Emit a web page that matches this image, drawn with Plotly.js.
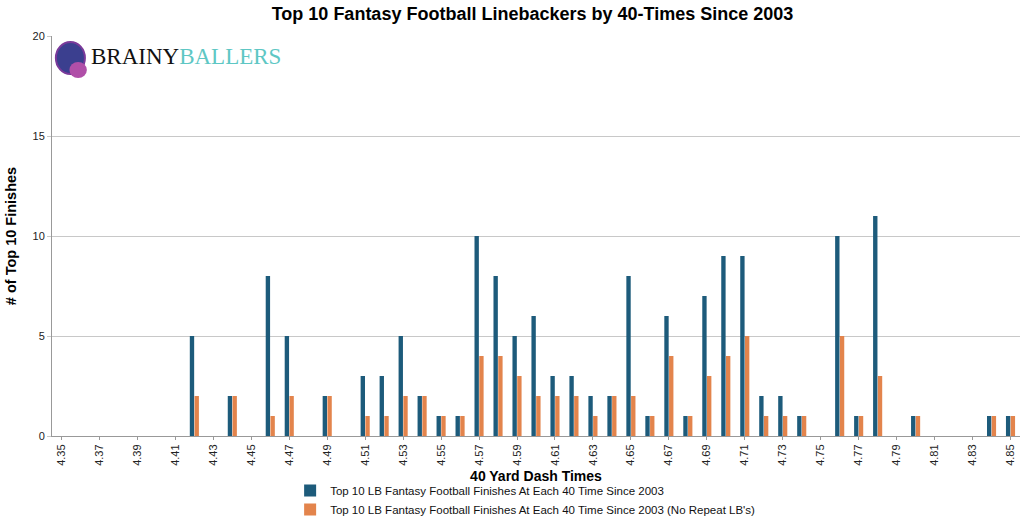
<!DOCTYPE html>
<html>
<head>
<meta charset="utf-8">
<script src="https://cdn.plot.ly/plotly-3.0.1.min.js"></script>
<style>html,body{margin:0;padding:0;background:#fff;}#chart{width:1024px;height:517px;}</style>
</head>
<body>
<div id="chart"></div>
<script>
const categories = ["4.35","4.36","4.37","4.38","4.39","4.40","4.41","4.42","4.43","4.44","4.45","4.46","4.47","4.48","4.49","4.50","4.51","4.52","4.53","4.54","4.55","4.56","4.57","4.58","4.59","4.60","4.61","4.62","4.63","4.64","4.65","4.66","4.67","4.68","4.69","4.70","4.71","4.72","4.73","4.74","4.75","4.76","4.77","4.78","4.79","4.80","4.81","4.82","4.83","4.84","4.85"];
const allFinishes = [0,0,0,0,0,0,0,5,0,2,0,8,5,0,2,0,3,3,5,2,1,1,10,8,5,6,3,3,2,2,8,1,6,1,7,9,9,2,2,1,0,10,1,11,0,1,0,0,0,1,1];
const noRepeat   = [0,0,0,0,0,0,0,2,0,2,0,1,2,0,2,0,1,1,2,2,1,1,4,4,3,2,2,2,1,2,2,1,4,1,3,4,5,1,1,1,0,5,1,3,0,1,0,0,0,1,1];
const tickLabels = categories.filter((c, i) => i % 2 === 0);
const seriesNames = ["Top 10 LB Fantasy Football Finishes At Each 40 Time Since 2003",
                     "Top 10 LB Fantasy Football Finishes At Each 40 Time Since 2003 (No Repeat LB's)"];

const traces = [
  {type:'bar', x:categories, y:allFinishes.map(v=>v===0?null:v), name:seriesNames[0], marker:{color:'#1d5b7b'}},
  {type:'bar', x:categories, y:noRepeat.map(v=>v===0?null:v), name:seriesNames[1], marker:{color:'#e3844c'}}
];

const layout = {
  width:1024, height:517,
  margin:{l:52, r:4, t:36, b:81, autoexpand:false},
  paper_bgcolor:'#fff', plot_bgcolor:'#fff',
  font:{family:'Liberation Sans, Arial, sans-serif', color:'#000', size:11},
  title:{text:'<b>Top 10 Fantasy Football Linebackers by 40-Times Since 2003</b>', x:0.52, xanchor:'center', y:0.973, yanchor:'middle', font:{size:18, color:'#000'}},
  barmode:'group', bargap:0.5, bargroupgap:0.08,
  xaxis:{type:'category', categoryorder:'array', categoryarray:categories,
         tickmode:'array', tickvals:tickLabels, ticktext:tickLabels, tickangle:-90,
         tickfont:{size:11, color:'#222'}, ticks:'outside', ticklen:3, tickcolor:'#999',
         showline:true, linecolor:'#999', linewidth:1, showgrid:false, fixedrange:true, automargin:false,
         title:{text:'<b>40 Yard Dash Times</b>', font:{size:14, color:'#000'}, standoff:6}},
  yaxis:{range:[0,20], tickvals:[0,5,10,15,20], showgrid:true, gridcolor:'#c8c8c8', gridwidth:1,
         showline:true, linecolor:'#999', linewidth:1, zeroline:false, ticks:'outside', ticklen:4, tickcolor:'#c8c8c8', automargin:false,
         tickfont:{size:11, color:'#222'},
         title:{text:'<b># of Top 10 Finishes</b>', font:{size:14.5, color:'#000'}, standoff:12}},
  showlegend:true,
  legend:{orientation:'v', x:0.246, xanchor:'left', y:-0.1, yanchor:'top', font:{size:11.5, color:'#111'},
          traceorder:'normal', itemwidth:30, tracegroupgap:0, bgcolor:'rgba(0,0,0,0)'},
  annotations:[
    {xref:'paper', yref:'paper', x:0.038, y:0.985, xanchor:'left', yanchor:'top', showarrow:false,
     text:'<span style="color:#111">BRAINY</span><span style="color:#5ec7c4">BALLERS</span>',
     font:{family:'Liberation Serif, DejaVu Serif, serif', size:23}}
  ],
  shapes:[
    {type:'circle', xref:'paper', yref:'paper', x0:0.004, x1:0.034, y0:0.905, y1:0.985, fillcolor:'#3b3f8f', line:{color:'#7a3a9a', width:2}},
    {type:'circle', xref:'paper', yref:'paper', x0:0.018, x1:0.036, y0:0.895, y1:0.935, fillcolor:'#b04fa8', line:{width:0}}
  ]
};

Plotly.newPlot('chart', traces, layout, {displayModeBar:false, staticPlot:true});
</script>
</body>
</html>
